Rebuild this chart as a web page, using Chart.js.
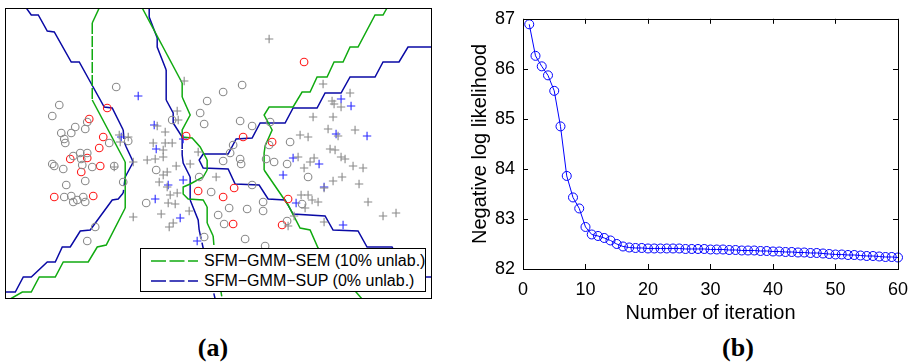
<!DOCTYPE html>
<html><head><meta charset="utf-8">
<script src="https://cdn.jsdelivr.net/npm/chart.js@4/dist/chart.umd.min.js"></script>
<style>
html,body{margin:0;padding:0;background:#fff;}
#wrap{position:relative;width:918px;height:363px;overflow:hidden;background:#fff;font-family:"Liberation Sans",Arial,sans-serif;}
#pa{position:absolute;left:0;top:0;width:445px;height:305px;}
#pb{position:absolute;left:460px;top:0;width:458px;height:330px;}
#legend{position:absolute;left:140px;top:248px;width:284px;height:42px;border:1px solid #000;background:#fff;}
.row{position:absolute;left:0;height:20px;width:100%;}
.row svg{position:absolute;left:9px;top:0;}
.row span{position:absolute;left:63px;top:0;font-size:16px;line-height:20px;white-space:nowrap;color:#000;}
.cap{position:absolute;width:60px;text-align:center;font-family:"Liberation Serif",serif;font-weight:bold;font-size:26px;line-height:30px;color:#000;}
</style></head>
<body>
<div id="wrap">
  <div id="pa"><canvas id="ca"></canvas></div>
  <div id="pb"><canvas id="cb"></canvas></div>
  <div id="legend">
    <div class="row" style="top:2px"><svg width="50" height="20"><line x1="1" y1="10" x2="48" y2="10" stroke="#10aa10" stroke-width="1.5" stroke-dasharray="15,3.5"/></svg><span>SFM−GMM−SEM (10% unlab.)</span></div>
    <div class="row" style="top:22px"><svg width="50" height="20"><line x1="1" y1="10" x2="48" y2="10" stroke="#0a0aa5" stroke-width="1.5" stroke-dasharray="15,3.5"/></svg><span>SFM−GMM−SUP (0% unlab.)</span></div>
  </div>
  <div class="cap" style="left:183px;top:333px">(a)</div>
  <div class="cap" style="left:708px;top:333px">(b)</div>
</div>
<script>
// ---------- Panel (a): feature-space samples ----------
const grayO = [[111,212],[54,194],[47,183],[70,172],[80,170],[82,177],[56,166],[66,166],[59,160],[60,156],[104,156],[123,158],[68,143],[75,146],[82,146],[76,140],[77,134],[87,132],[58,130],[47,135],[49,133],[109,133],[118,117],[80,118],[61,114],[59,102],[66,103],[72,99],[78,102],[80,97],[68,97],[90,72],[82,58],[167,179],[195,186],[199,175],[202,198],[218,207],[237,214],[235,178],[247,173],[265,177],[228,154],[225,146],[218,138],[235,140],[236,135],[194,122],[206,107],[213,84],[224,91],[242,90],[258,97],[258,88],[219,75],[199,62],[240,60],[151,129],[141,96],[247,114],[285,157],[264,154],[261,140],[269,137],[282,135],[303,122],[297,95],[282,78],[260,53]];
const grayPlus = [[264,260],[179,218],[318,215],[345,206],[327,198],[329,195],[336,192],[308,182],[328,182],[323,170],[350,169],[295,164],[303,162],[333,163],[325,150],[330,149],[336,142],[340,140],[309,141],[305,137],[299,131],[293,142],[348,133],[358,131],[337,122],[328,118],[319,111],[354,115],[296,104],[303,104],[307,99],[313,97],[300,91],[363,97],[378,83],[391,86],[319,77],[283,73],[289,83],[172,188],[173,179],[152,173],[160,167],[148,156],[160,156],[167,156],[158,149],[158,142],[150,140],[142,139],[128,137],[171,133],[185,135],[193,147],[211,122],[162,127],[158,124],[154,117],[162,112],[165,104],[172,106],[163,96],[170,95],[156,85],[128,82],[184,88],[168,76],[164,72],[114,164],[123,162],[115,157],[109,132]];
const bluePlus = [[336,200],[346,193],[331,165],[362,163],[288,141],[314,135],[278,124],[319,112],[291,96],[338,74],[133,203],[149,174],[151,150],[178,160],[178,119],[163,114],[150,100],[175,81],[192,58],[116,162]];
const redO = [[299,237],[267,157],[283,100],[277,74],[181,163],[238,162],[193,108],[229,111],[218,102],[228,75],[102,191],[84,180],[98,162],[94,151],[65,140],[82,141],[76,127],[95,133],[49,102],[88,103]];
// decision boundaries
const semLeft = [[94,291],[87,276],[87,199],[120,137],[120,91],[101,54],[92,52],[83,37],[58,37],[50,22],[34,22],[26,7],[17,7],[5,0]];
const semCenter = [[137,291],[177,216],[177,202],[185,184],[177,169],[177,162],[187,161],[195,152],[202,139],[202,129],[198,122],[185,115],[178,112],[178,105],[183,100],[198,99],[202,92],[202,76],[208,63],[209,51],[217,0]];
const semRight = [[382,291],[378,284],[370,284],[353,252],[345,252],[338,237],[329,237],[322,222],[312,222],[305,207],[297,207],[288,192],[264,192],[259,184],[267,169],[260,153],[259,146],[259,129],[283,94],[295,71],[305,69],[313,51],[357,0]];
const supLeft = [[21,291],[26,284],[33,284],[42,268],[49,267],[66,237],[74,237],[84,219],[99,192],[107,191],[118,169],[119,157],[121,152],[128,137],[120,122],[118,106],[113,100],[107,99],[85,69],[75,68],[65,52],[57,52],[50,37],[42,37],[26,22],[18,22],[10,7],[0,7]];
const supCenter = [[144,291],[144,282],[152,261],[152,252],[161,229],[161,199],[168,186],[168,176],[177,162],[177,144],[178,136],[185,122],[185,99],[193,79],[194,69],[198,51],[210,0]];
const supRight = [[427,252],[403,252],[394,237],[378,237],[370,222],[345,222],[336,206],[320,206],[312,191],[288,191],[280,176],[255,176],[247,161],[231,160],[223,145],[198,145],[194,139],[198,131],[223,130],[230,115],[254,114],[263,100],[280,99],[288,85],[320,83],[328,69],[353,68],[362,52],[387,52],[395,37],[412,37],[420,22],[427,22]];

// ---------- Panel (b): EM convergence ----------
const iterations = [1,2,3,4,5,6,7,8,9,10,11,12,13,14,15,16,17,18,19,20,21,22,23,24,25,26,27,28,29,30,31,32,33,34,35,36,37,38,39,40,41,42,43,44,45,46,47,48,49,50,51,52,53,54,55,56,57,58,59,60];
const negLogLik = [86.89,86.26,86.05,85.87,85.56,84.85,83.86,83.43,83.21,82.84,82.69,82.66,82.62,82.57,82.50,82.45,82.43,82.42,82.42,82.41,82.41,82.41,82.41,82.41,82.41,82.40,82.40,82.40,82.40,82.39,82.39,82.39,82.38,82.38,82.37,82.37,82.37,82.36,82.36,82.35,82.35,82.34,82.34,82.33,82.33,82.32,82.32,82.31,82.30,82.29,82.29,82.28,82.28,82.27,82.26,82.26,82.25,82.24,82.24,82.23];
const xTicks = [0,10,20,30,40,50,60];
const yTicks = [82,83,84,85,86,87];

Chart.defaults.font.family = '"Liberation Sans", Arial, sans-serif';
Chart.defaults.color = '#000';
Chart.defaults.animation = false;

const toXY = arr => arr.map(p => ({x: p[0], y: p[1]}));

const frame = {
  id: 'frame',
  afterDatasetsDraw(chart) {
    const a = chart.chartArea, ctx = chart.ctx;
    ctx.save();
    ctx.strokeStyle = '#000'; ctx.lineWidth = 1;
    ctx.strokeRect(Math.round(a.left) + 0.5, Math.round(a.top) + 0.5, Math.round(a.right - a.left) - 1, Math.round(a.bottom - a.top) - 1);
    ctx.restore();
  }
};

const dashVertical = ctx => {
  const dx = Math.abs(ctx.p1.x - ctx.p0.x), dy = Math.abs(ctx.p1.y - ctx.p0.y);
  return (dy > 10 && dx < 0.35 * dy) ? [9, 4] : undefined;
};
const lineDs = (data, color) => ({
  type: 'line', data: toXY(data), showLine: true, borderColor: color, borderWidth: 1.5,
  pointRadius: 0, fill: false, tension: 0, order: 5,
  segment: { borderDash: dashVertical }
});
const markDs = (data, color, style, r) => ({
  type: 'scatter', data: toXY(data), pointStyle: style, pointRadius: r, pointBorderColor: color,
  pointBackgroundColor: 'rgba(0,0,0,0)', pointBorderWidth: 1.1, order: 1, clip: false
});

new Chart(document.getElementById('ca'), {
  type: 'scatter',
  data: { datasets: [
    markDs(grayO, '#8a8a8a', 'circle', 3.8),
    markDs(grayPlus, '#8a8a8a', 'cross', 4.2),
    markDs(redO, '#ff1a1a', 'circle', 3.8),
    markDs(bluePlus, '#2a2aff', 'cross', 4.2),
    lineDs(semLeft, '#10aa10'), lineDs(semCenter, '#10aa10'), lineDs(semRight, '#10aa10'),
    lineDs(supLeft, '#0a0aa5'), lineDs(supCenter, '#0a0aa5'), lineDs(supRight, '#0a0aa5')
  ]},
  options: {
    responsive: true, maintainAspectRatio: false, devicePixelRatio: 1,
    layout: { padding: { left: 5, top: 8, right: 13, bottom: 6 } },
    plugins: { legend: { display: false }, tooltip: { enabled: false } },
    scales: {
      x: { type: 'linear', min: 0, max: 427, display: false },
      y: { type: 'linear', min: 0, max: 291, display: false }
    }
  },
  plugins: [frame]
});

const inwardTicks = {
  id: 'inwardTicks',
  afterDatasetsDraw(chart) {
    const a = chart.chartArea, ctx = chart.ctx, xs = chart.scales.x, ys = chart.scales.y, L = 5;
    ctx.save();
    ctx.strokeStyle = '#000'; ctx.lineWidth = 1;
    ctx.beginPath();
    xTicks.forEach(v => {
      const px = Math.round(xs.getPixelForValue(v)) + 0.5;
      ctx.moveTo(px, a.bottom); ctx.lineTo(px, a.bottom - L);
      ctx.moveTo(px, a.top); ctx.lineTo(px, a.top + L);
    });
    yTicks.forEach(v => {
      const py = Math.round(ys.getPixelForValue(v)) + 0.5;
      ctx.moveTo(a.left, py); ctx.lineTo(a.left + L, py);
      ctx.moveTo(a.right, py); ctx.lineTo(a.right - L, py);
    });
    ctx.stroke();
    ctx.strokeRect(Math.round(a.left) + 0.5, Math.round(a.top) + 0.5, Math.round(a.right - a.left), Math.round(a.bottom - a.top));
    ctx.restore();
  }
};

new Chart(document.getElementById('cb'), {
  type: 'line',
  data: { labels: iterations, datasets: [{
    data: iterations.map((it, i) => ({x: it, y: negLogLik[i]})),
    borderColor: '#0000ff', borderWidth: 1, pointStyle: 'circle', pointRadius: 4.5,
    pointBorderColor: '#0000ff', pointBackgroundColor: 'rgba(0,0,0,0)', pointBorderWidth: 1,
    tension: 0, fill: false, clip: false
  }]},
  options: {
    responsive: true, maintainAspectRatio: false, devicePixelRatio: 1,
    layout: { padding: { left: 0, top: 11, right: 15, bottom: 0 } },
    plugins: { legend: { display: false }, tooltip: { enabled: false } },
    scales: {
      x: {
        type: 'linear', min: 0, max: 60,
        afterBuildTicks: s => { s.ticks = xTicks.map(v => ({value: v})); },
        afterFit: s => { s.height = 61; },
        grid: { display: false, drawTicks: false },
        border: { display: false },
        ticks: { font: { size: 18 }, padding: 10, maxRotation: 0 },
        title: { display: true, text: 'Number of iteration', font: { size: 20 }, padding: { top: 0, bottom: 5 } }
      },
      y: {
        type: 'linear', min: 82, max: 87,
        afterBuildTicks: s => { s.ticks = yTicks.map(v => ({value: v})); },
        afterFit: s => { s.width = 63; },
        grid: { display: false, drawTicks: false },
        border: { display: false },
        ticks: { font: { size: 18 }, padding: 8 },
        title: { display: true, text: 'Negative log likelihood', font: { size: 20 }, padding: { top: 8, bottom: 0 } }
      }
    }
  },
  plugins: [inwardTicks]
});
</script>
</body></html>
